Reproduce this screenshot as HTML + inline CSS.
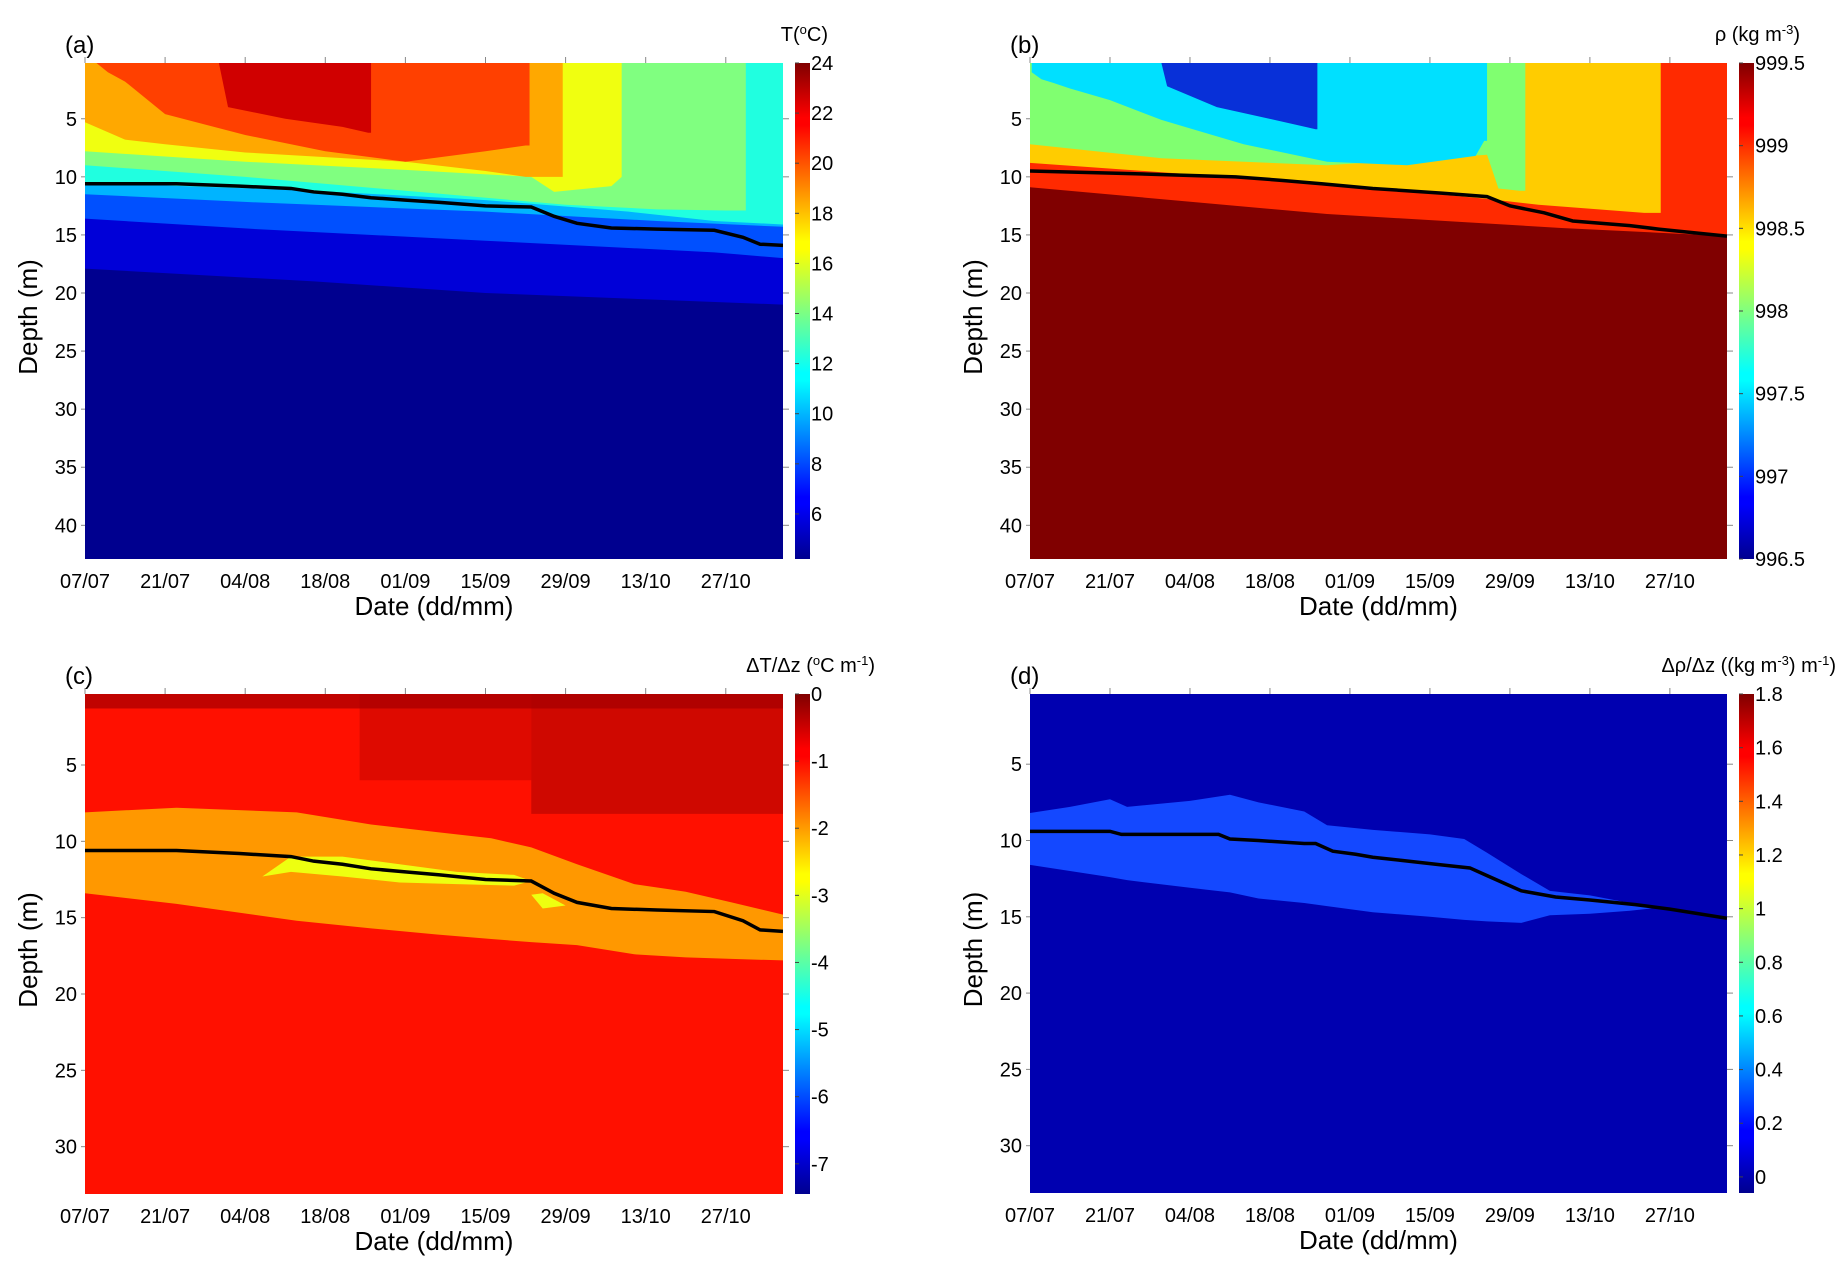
<!DOCTYPE html>
<html><head><meta charset="utf-8">
<style>
html,body{margin:0;padding:0;background:#fff;}
svg{display:block;font-family:"Liberation Sans",Arial,sans-serif;}
</style></head>
<body>
<svg id="fig" width="1845" height="1270" viewBox="0 0 1845 1270" xmlns="http://www.w3.org/2000/svg">
<defs>
<linearGradient id="jet" x1="0" y1="1" x2="0" y2="0">
<stop offset="0" stop-color="#00008f"/><stop offset="0.11" stop-color="#0000ff"/>
<stop offset="0.125" stop-color="#0000ff"/><stop offset="0.36" stop-color="#00ffff"/>
<stop offset="0.375" stop-color="#00ffff"/><stop offset="0.5" stop-color="#80ff80"/>
<stop offset="0.625" stop-color="#ffff00"/><stop offset="0.64" stop-color="#ffff00"/>
<stop offset="0.875" stop-color="#ff0000"/><stop offset="0.89" stop-color="#ff0000"/>
<stop offset="1" stop-color="#800000"/>
</linearGradient>
</defs>
</svg>
<script>
// ---------- shared x-axis data ----------
const xTickDays = [0,14,28,42,56,70,84,98,112];
const xTickLabels = ["07/07","21/07","04/08","18/08","01/09","15/09","29/09","13/10","27/10"];
const dayMax = 122;

// ---------- panel (a) temperature bands (depth of lower boundary) ----------
const aBlueDays=[0,40,70,122], aBlueBot=[17.9,19,20,21];
const aMedDays=[0,30,70,110,122], aMedBot=[13.6,14.5,15.5,16.5,17];
const aLightDays=[0,30,70,100,122], aLightBot=[11.5,12.2,13,13.8,14.3];
const aCyanDays=[0,40,70,95,110,122], aCyanBot=[10.5,11.2,12,13,13.8,14.1];
const aGreenDays=[0,28,56,84,100,112,115.5], aGreenBot=[9.0,10.0,11.2,12.4,12.8,12.9,12.9];
const aYellowDays=[0,28,56,78,82,92,93.8], aYellowBot=[7.8,8.7,9.4,10.0,11.3,10.8,10.0];
const aOrangeDays=[0,7,14,28,42,56,70,77,83.5], aOrangeBot=[5.3,6.8,7.2,7.9,8.3,8.7,9.5,10,10];
const aRedDays=[2,4,7,14,28,42,56,70,77,77.7], aRedBot=[0.2,1.0,1.8,4.6,6.4,7.8,8.7,7.8,7.3,7.3];
const aDarkDays=[23.4,25,35,45,49.5,50], aDarkBot=[0.2,4,5,5.7,6.2,6.2];
const mldTDays=[0,16,27,36,40,45,50,56,62,70,78,82,86,92,100,110,115,118,122];
const mldTDepth=[10.6,10.6,10.8,11.0,11.3,11.5,11.8,12.0,12.2,12.5,12.6,13.4,14.0,14.4,14.5,14.6,15.2,15.8,15.9];

// ---------- panel (b) density bands ----------
const bRedDays=[0,52,93,122], bRedBot=[10.9,13.2,14.4,15.1];
const bYelDays=[0,23,52,80,89,107.5,110.4], bYelBot=[8.8,9.6,10.6,11.9,12.4,13.1,13.1];
const bGreenDays=[0,23,52,80,82,85.7,86.7], bGreenBot=[7.2,8.4,9.0,8.1,11,11.2,11.2];
const bCyanDays=[0.3,2,4,7,14,23,37.4,52,66,78,79.5,80], bCyanBot=[1.0,1.6,1.9,2.4,3.4,5.1,7.2,8.7,9.0,8.2,6.9,6.9];
const bBlueDays=[23,24,32.7,41,50,50.3], bBlueBot=[0.2,2.2,4.0,4.9,5.9,5.9];
const mldRDays=[0,16,36,44,51,60,72,80,84,90,95,105,110,122];
const mldRDepth=[9.5,9.7,10.0,10.3,10.6,11.0,11.4,11.7,12.5,13.1,13.8,14.2,14.5,15.1];

// ---------- panel (c) temperature gradient ----------
const cOrDays=[0,16,37,50,61.5,71,78,86,96,105,113,122];
const cOrTop=[8.1,7.8,8.1,8.9,9.4,9.8,10.4,11.5,12.8,13.3,14.0,14.8];
const cOrBot=[13.4,14.1,15.2,15.7,16.1,16.4,16.6,16.8,17.4,17.6,17.7,17.8];
const cYelDays=[31,36,45,55,65,75,78], cYelTop=[12.3,11.0,11.0,11.5,12.0,12.2,12.6], cYelBot=[12.3,12.0,12.3,12.7,12.8,12.9,12.6];
const cYel2Days=[78,80,84], cYel2Top=[13.5,13.4,14.2], cYel2Bot=[13.5,14.4,14.2];
const cDarkDays=[0,122], cDarkBot=[1.3,1.3];
const cMixDays=[48,78], cMixBot=[6.0,6.0];
const cMix2Days=[78,122], cMix2Bot=[8.2,8.2];

// ---------- panel (d) density gradient ----------
const dLbDays=[0,7,14,17,28,35,40,48,52,60,70,76,80,86,91,98,105,110,122];
const dLbTop=[8.2,7.8,7.3,7.8,7.4,7.0,7.5,8.1,9.0,9.3,9.6,9.9,10.8,12.2,13.3,13.6,14.1,14.4,14.9];
const dLbBot=[11.6,12.0,12.4,12.6,13.1,13.4,13.8,14.1,14.3,14.7,15.0,15.2,15.3,15.4,14.9,14.8,14.6,14.4,14.9];

// colorbar tick data
const aCbTicks=[6,8,10,12,14,16,18,20,22,24];
const bCbTicks=[996.5,997,997.5,998,998.5,999,999.5];
const cCbTicks=[-7,-6,-5,-4,-3,-2,-1,0];
const dCbTicks=[0,0.2,0.4,0.6,0.8,1,1.2,1.4,1.6,1.8];

const NS="http://www.w3.org/2000/svg";
const svg=document.getElementById('fig');
function el(tag,attrs,parent){const e=document.createElementNS(NS,tag);for(const k in attrs)e.setAttribute(k,attrs[k]);(parent||svg).appendChild(e);return e;}

function makePanel(p){
  const g=el('g',{});
  
  
  const xs=d=>p.x0+(d/dayMax)*(p.x1-p.x0);
  const ys=z=>p.y0+(z-p.zMin)/(p.zMax-p.zMin)*(p.y1-p.y0);
  const clip=el('clipPath',{id:'clip'+p.id},g);
  el('rect',{x:p.x0,y:p.y0,width:p.x1-p.x0,height:p.y1-p.y0},clip);
  const bg=el('rect',{x:p.x0,y:p.y0,width:p.x1-p.x0,height:p.y1-p.y0,fill:p.bg},g);
  
  
  const fg=el('g',{'clip-path':'url(#clip'+p.id+')'},g);
  p.bands.forEach(b=>{
    const pts=[];
    for(let i=0;i<b.days.length;i++){const t=b.top?b.top[i]:p.zMin-1;pts.push(xs(b.days[i])+','+ys(t));}
    for(let i=b.days.length-1;i>=0;i--)pts.push(xs(b.days[i])+','+ys(b.bot[i]));
    const poly=el('polygon',{points:pts.join(' '),fill:b.color,'fill-opacity':b.op||1},fg);
    
    
  });
  const lp=p.mldDays.map((d,i)=>xs(d)+','+ys(p.mldDepth[i])).join(' ');
  const line=el('polyline',{points:lp,fill:'none',stroke:'#000','stroke-width':3.5},fg);
  
  
  xTickDays.forEach((d,i)=>{
    const x=xs(d);
    el('line',{x1:x,y1:p.y0,x2:x,y2:p.y0-6,stroke:'#888','stroke-width':1},g);
    const t=el('text',{x:x,y:p.y1+29,'font-size':20,'text-anchor':'middle',fill:'#000'},g);
    t.textContent=xTickLabels[i];
    
    
  });
  p.yTicks.forEach(v=>{
    const y=ys(v);
    el('line',{x1:p.x1,y1:y,x2:p.x1+6,y2:y,stroke:'#888','stroke-width':1},g);
    el('line',{x1:p.x0,y1:y,x2:p.x0-4,y2:y,stroke:'#888','stroke-width':1},g);
    const t=el('text',{x:p.x0-8,y:y+7,'font-size':20,'text-anchor':'end',fill:'#000'},g);
    t.textContent=String(v);
    
    
  });
  const xt=el('text',{x:(p.x0+p.x1)/2,y:p.y1+56,'font-size':26,'text-anchor':'middle',fill:'#000'},g);
  xt.textContent='Date (dd/mm)';
  
  
  const yc=(p.y0+p.y1)/2-p.yTitleShift;
  const yt=el('text',{x:p.x0-48,y:yc,'font-size':26,'text-anchor':'middle',fill:'#000',transform:'rotate(-90 '+(p.x0-48)+' '+yc+')'},g);
  yt.textContent='Depth (m)';
  
  
  const pl=el('text',{x:p.x0-20,y:p.y0-10,'font-size':24,fill:'#000'},g);
  pl.textContent='('+p.id+')';
  
  
  const cb=el('rect',{x:p.cbx,y:p.y0,width:15,height:p.y1-p.y0,fill:'url(#jet)'},g);
  
  
  const cys=v=>p.y1-(v-p.cMin)/(p.cMax-p.cMin)*(p.y1-p.y0);
  p.cbTicks.forEach(v=>{
    const y=cys(v);
    el('line',{x1:p.cbx,y1:y,x2:p.cbx+4,y2:y,stroke:'#444','stroke-width':1},g);
    const t=el('text',{x:p.cbx+16,y:y+7,'font-size':20,fill:'#000'},g);
    t.textContent=String(v);
    
    
  });
  const ct=el('text',{x:p.cbTitleX,y:p.y0-22,'font-size':20,'text-anchor':'end',fill:'#000'},g);
  ct.innerHTML=p.cbTitle;
  
  
}

makePanel({id:'a',x0:85,x1:783,y0:63,y1:559,zMin:0.2,zMax:42.9,bg:'#00008f',cbx:795,
  cMin:4.2,cMax:24,cbTicks:aCbTicks,cbTitleX:828,yTitleShift:-6,
  cbTitle:'T(<tspan baseline-shift="super" font-size="13">o</tspan>C)',
  yTicks:[5,10,15,20,25,30,35,40],mldDays:mldTDays,mldDepth:mldTDepth,
  bands:[
   {name:'band-6-8',days:aBlueDays,bot:aBlueBot,color:'#0000d8'},
   {name:'band-8-10',days:aMedDays,bot:aMedBot,color:'#0050ff'},
   {name:'band-10-12',days:aLightDays,bot:aLightBot,color:'#00b4ff'},
   {name:'band-12-14',days:aCyanDays,bot:aCyanBot,color:'#20ffe0'},
   {name:'band-14-16',days:aGreenDays,bot:aGreenBot,color:'#80ff80'},
   {name:'band-16-18',days:aYellowDays,bot:aYellowBot,color:'#f0ff10'},
   {name:'band-18-20',days:aOrangeDays,bot:aOrangeBot,color:'#ffa800'},
   {name:'band-20-22',days:aRedDays,bot:aRedBot,color:'#ff4000'},
   {name:'band-22-24',days:aDarkDays,bot:aDarkBot,color:'#d00000'}]});

makePanel({id:'b',x0:1030,x1:1727,y0:63,y1:559,zMin:0.2,zMax:42.9,bg:'#800000',cbx:1739,
  cMin:996.5,cMax:999.5,cbTicks:bCbTicks,cbTitleX:1800,yTitleShift:-6,
  cbTitle:'ρ (kg m<tspan baseline-shift="super" font-size="13">-3</tspan>)',
  yTicks:[5,10,15,20,25,30,35,40],mldDays:mldRDays,mldDepth:mldRDepth,
  bands:[
   {name:'band-999',days:bRedDays,bot:bRedBot,color:'#ff2a00'},
   {name:'band-998-5',days:bYelDays,bot:bYelBot,color:'#ffcc00'},
   {name:'band-998',days:bGreenDays,bot:bGreenBot,color:'#80ff70'},
   {name:'band-997-5',days:bCyanDays,bot:bCyanBot,color:'#00e0ff'},
   {name:'band-997',days:bBlueDays,bot:bBlueBot,color:'#0830d8'}]});

makePanel({id:'c',x0:85,x1:783,y0:694,y1:1194,zMin:0.35,zMax:33.1,bg:'#ff1000',cbx:795,
  cMin:-7.45,cMax:0,cbTicks:cCbTicks,cbTitleX:875,yTitleShift:-6,
  cbTitle:'ΔT/Δz (<tspan baseline-shift="super" font-size="13">o</tspan>C m<tspan baseline-shift="super" font-size="13">-1</tspan>)',
  yTicks:[5,10,15,20,25,30],mldDays:mldTDays,mldDepth:mldTDepth,
  bands:[
   {name:'band-orange',days:cOrDays,top:cOrTop,bot:cOrBot,color:'#ff9800'},
   {name:'band-yellow',days:cYelDays,top:cYelTop,bot:cYelBot,color:'#eeff10'},
   {name:'band-yellow-small',days:cYel2Days,top:cYel2Top,bot:cYel2Bot,color:'#eeff10'},
   {name:'band-surface-dark',days:cDarkDays,bot:cDarkBot,color:'#b00000',op:0.8},
   {name:'band-mixed',days:cMixDays,bot:cMixBot,color:'#a00000',op:0.35},
   {name:'band-mixed-late',days:cMix2Days,bot:cMix2Bot,color:'#a00000',op:0.5}]});

makePanel({id:'d',x0:1030,x1:1727,y0:694,y1:1193,zMin:0.4,zMax:33.1,bg:'#0000b0',cbx:1739,
  cMin:-0.06,cMax:1.8,cbTicks:dCbTicks,cbTitleX:1836,yTitleShift:-6,
  cbTitle:'Δρ/Δz ((kg m<tspan baseline-shift="super" font-size="13">-3</tspan>) m<tspan baseline-shift="super" font-size="13">-1</tspan>)',
  yTicks:[5,10,15,20,25,30],
  mldDays:[0,14,16,33,35,40,48,50,53,57,60,65,72,77,80,83,86,92,98,106,112,122],
  mldDepth:[9.4,9.4,9.6,9.6,9.9,10.0,10.2,10.2,10.7,10.9,11.1,11.3,11.6,11.8,12.3,12.8,13.3,13.7,13.9,14.2,14.5,15.1],
  bands:[
   {name:'band-0-2',days:dLbDays,top:dLbTop,bot:dLbBot,color:'#1448ff'}]});
</script>
</body></html>
